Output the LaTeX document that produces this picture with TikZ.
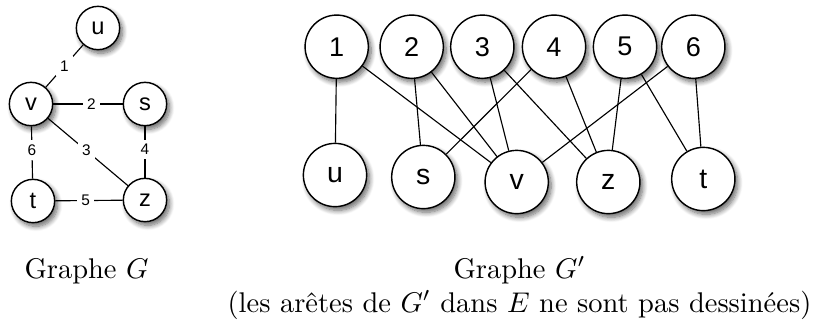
\documentclass[tikz,border=0pt]{standalone}
\usepackage{fontspec}
\newfontfamily\helv{Liberation Sans}
\usepackage{tikz}
\usetikzlibrary{shadows.blur}
\tikzstyle{Shadowed}=[blur shadow={shadow xshift=1pt,shadow yshift=-1.3pt,shadow blur steps=8,shadow opacity=60}]
\tikzstyle{NodeSmall}=[circle,draw,fill=white,line width=.5pt,minimum size=15.2pt,inner sep=0pt,
Shadowed,font=\helv\fontsize{8.3}{9}\selectfont]
\tikzstyle{NodeBig}=[circle,draw,fill=white,line width=.5pt,minimum size=22.2pt,inner sep=0pt,
Shadowed,font=\helv\fontsize{9.5}{11}\selectfont]
\tikzstyle{NodeLetter}=[NodeBig,font=\helv\fontsize{10}{12}\selectfont]
\tikzstyle{EdgeGraph}=[line width=.4pt]
\tikzstyle{EdgeLabel}=[fill=white,inner sep=1.6pt,font=\helv\fontsize{5.4}{6}\selectfont]

\begin{document}
\begin{tikzpicture}[x=.351pt,y=-.351pt]
        \useasboundingbox (0,0) rectangle (814,328);
        % graphe G
        \node[NodeSmall](u)at(98,28){u};
        \node[NodeSmall](v)at(31,104){v};
        \node[NodeSmall](s)at(145,104){s};
        \node[NodeSmall](t)at(33,201){t};
        \node[NodeSmall](z)at(145,200){z};
        \draw[EdgeGraph](u)--node[EdgeLabel](e1){1}(v);
        \draw[EdgeGraph](v)--node[EdgeLabel,pos=.55](e2){2}(s);
        \draw[EdgeGraph](v)--node[EdgeLabel,pos=.48](e3){3}(z);
        \draw[EdgeGraph](s)--node[EdgeLabel,pos=.45](e4){4}(z);
        \draw[EdgeGraph](t)--node[EdgeLabel,pos=.45](e5){5}(z);
        \draw[EdgeGraph](v)--node[EdgeLabel,pos=.45](e6){6}(t);
        % graphe G'
        \node[NodeBig](n1)at(336.7,46.7){1};
        \node[NodeBig](n2)at(411.7,46.7){2};
        \node[NodeBig](n3)at(482.3,46.7){3};
        \node[NodeBig](n4)at(554,46.7){4};
        \node[NodeBig](n5)at(625,46.7){5};
        \node[NodeBig](n6)at(693.3,46.7){6};
        \node[NodeLetter](bu)at(335,175){u};
        \node[NodeLetter](bs)at(423.3,177){s};
        \node[NodeLetter](bv)at(516.7,182){v};
        \node[NodeLetter](bz)at(608.3,182){z};
        \node[NodeLetter](bt)at(703.3,179){t};
        \draw[EdgeGraph](n1)--(bu);
        \draw[EdgeGraph](n1)--(bv);
        \draw[EdgeGraph](n2)--(bs);
        \draw[EdgeGraph](n2)--(bv);
        \draw[EdgeGraph](n3)--(bv);
        \draw[EdgeGraph](n3)--(bz);
        \draw[EdgeGraph](n4)--(bs);
        \draw[EdgeGraph](n4)--(bz);
        \draw[EdgeGraph](n5)--(bz);
        \draw[EdgeGraph](n5)--(bt);
        \draw[EdgeGraph](n6)--(bv);
        \draw[EdgeGraph](n6)--(bt);
        % legendes
        \node[anchor=base](capG)at(86.5,278){Graphe $G$};
        \node[anchor=base](capGp)at(519.5,278){Graphe $G'$};
        \node[anchor=base](note)at(519.5,312){(les arêtes de $G'$ dans $E$ ne sont pas dessinées)};
    \end{tikzpicture}
\end{document}
